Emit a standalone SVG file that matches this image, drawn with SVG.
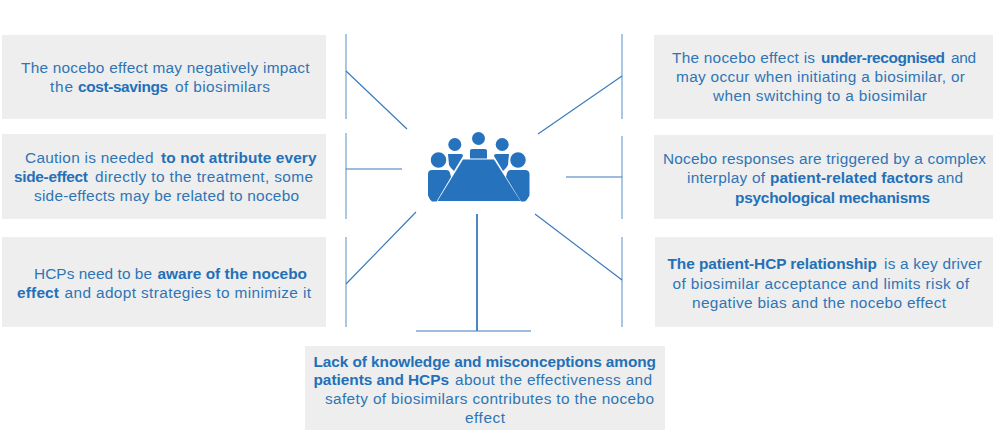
<svg xmlns="http://www.w3.org/2000/svg" width="995" height="447" viewBox="0 0 995 447">
<style>
.box{fill:#eeeeee}
text{font-family:"Liberation Sans",Arial,sans-serif;font-size:15.4px;fill:#2e75b6}
.b{font-weight:700;fill:#2470b8}
.bar{stroke:#8db4dc;stroke-width:1.5;fill:none}
.ln{stroke:#3b7cbc;stroke-width:1.2;fill:none}
.ic{fill:#2672bc}
.ring{fill:#2672bc;stroke:#fff;stroke-width:1.5}
</style>
<g id="connectors">
<path class="bar" d="M346 34V119M346 133V219M346 237V327M622 34V119M622 136V219M622 237V327"/>
<path class="ln" d="M346 71L407 129M346 169H402M346 284L416 212M622 76L538 134M622 177H566M622 280L535 214M416 331H531"/>
<path d="M477 214V331" stroke="#4f87c2" stroke-width="2" fill="none"/>
</g>
<g id="node-1"><rect class="box" x="2" y="35" width="324" height="84"/>
<text x="21" y="73" textLength="288.500">The nocebo effect may negatively impact</text>
<text x="50" y="92" textLength="23">the</text><text class="b" x="78" y="92" textLength="90">cost-savings</text><text x="175" y="92" textLength="95">of biosimilars</text></g>
<g id="node-2"><rect class="box" x="2" y="134" width="324" height="85"/>
<text x="25" y="163" textLength="128.500">Caution is needed</text><text class="b" x="161" y="163" textLength="155.500">to not attribute every</text>
<text class="b" x="14" y="182" textLength="74">side-effect</text><text x="95" y="182" textLength="218">directly to the treatment, some</text>
<text x="34" y="201" textLength="265">side-effects may be related to nocebo</text></g>
<g id="node-3"><rect class="box" x="2" y="237" width="324" height="90"/>
<text x="34" y="279" textLength="118">HCPs need to be</text><text class="b" x="157.500" y="279" textLength="149.500">aware of the nocebo</text>
<text class="b" x="17" y="298" textLength="42">effect</text><text x="64.500" y="298" textLength="246.500">and adopt strategies to minimize it</text></g>
<g id="node-4"><rect class="box" x="654" y="35" width="339" height="84"/>
<text x="672" y="63" textLength="143">The nocebo effect is</text><text class="b" x="821" y="63" textLength="124">under-recognised</text><text x="951" y="63" textLength="25">and</text>
<text x="676" y="82" textLength="289">may occur when initiating a biosimilar, or</text>
<text x="713" y="101" textLength="214">when switching to a biosimilar</text></g>
<g id="node-5"><rect class="box" x="654" y="135" width="339" height="84"/>
<text x="663" y="164" textLength="323">Nocebo responses are triggered by a complex</text>
<text x="687" y="183" textLength="78">interplay of</text><text class="b" x="770" y="183" textLength="163">patient-related factors</text><text x="937" y="183" textLength="26">and</text>
<text class="b" x="735" y="203" textLength="195">psychological mechanisms</text></g>
<g id="node-6"><rect class="box" x="655" y="237" width="338" height="90"/>
<text class="b" x="667.500" y="269" textLength="209.500">The patient-HCP relationship</text><text x="884" y="269" textLength="98">is a key driver</text>
<text x="672.500" y="289" textLength="296.500">of biosimilar acceptance and limits risk of</text>
<text x="692" y="308" textLength="254">negative bias and the nocebo effect</text></g>
<g id="node-7"><rect class="box" x="305" y="346" width="360" height="84"/>
<text class="b" x="313.500" y="367" textLength="342.500">Lack of knowledge and misconceptions among</text>
<text class="b" x="313.500" y="384.500" textLength="135.500">patients and HCPs</text><text x="455" y="384.500" textLength="197">about the effectiveness and</text>
<text x="325" y="404" textLength="329">safety of biosimilars contributes to the nocebo</text>
<text x="465" y="423" textLength="40">effect</text></g>
<g id="node-center">
<circle class="ic" cx="478.500" cy="138.500" r="6.500"/>
<circle class="ic" cx="454.800" cy="144.500" r="6.500"/>
<circle class="ic" cx="502.200" cy="144.500" r="6.500"/>
<path class="ic" d="M470 151a2 2 0 0 1 2-2h13a2 2 0 0 1 2 2v7.500h-17z"/>
<path class="ic" d="M448 154h13a2 2 0 0 1 2 2l-9 15-3-3-2-3z"/>
<path class="ic" d="M509 154h-13a2 2 0 0 0-2 2l9 15 3-3 2-3z"/>
<circle class="ring" cx="438.500" cy="160" r="8.500"/>
<circle class="ring" cx="518" cy="160" r="8.500"/>
<path class="ic" d="M463 159.500H494L520.500 201H437.500z"/>
<path class="ic" d="M432 170h14a4 4 0 0 1 4 3l1 4-14.500 24.500H432l-2-2-2-4V174a4 4 0 0 1 4-4z"/>
<path class="ic" d="M525 170h-14a4 4 0 0 0-4 3l-1 4 15 24.500h4l2-2 2.500-4V174a4 4 0 0 0-4.500-4z"/>
</g>
</svg>
